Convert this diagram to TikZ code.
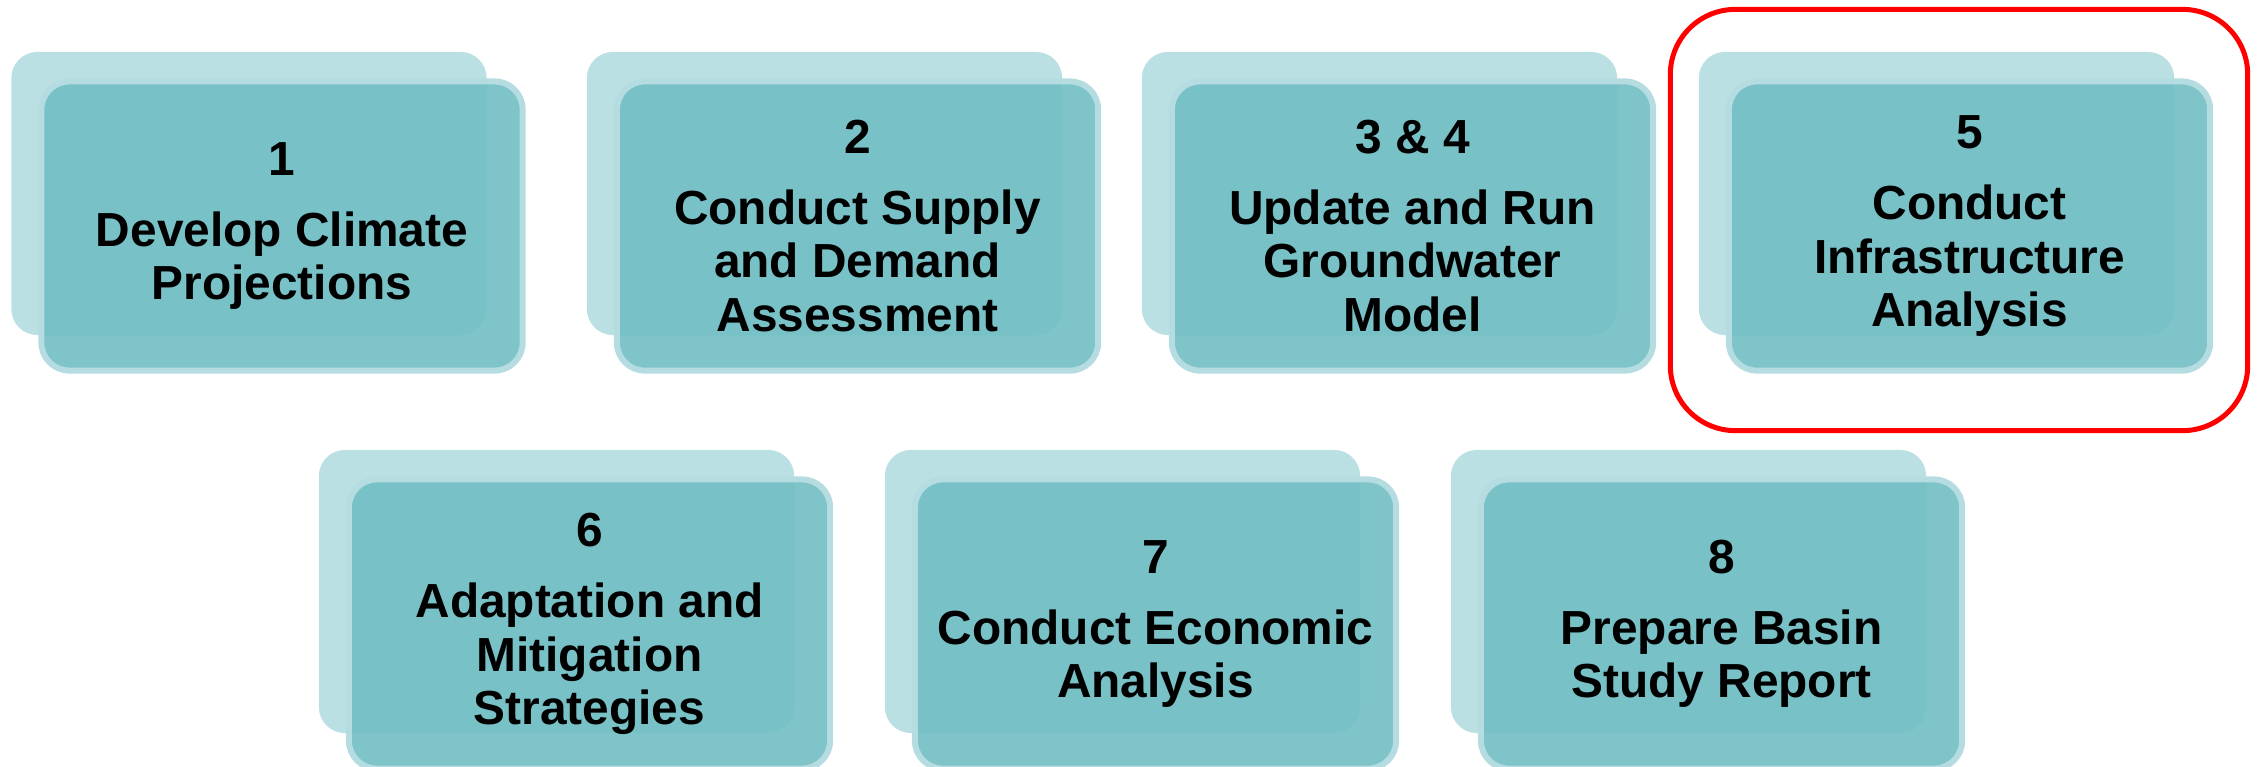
\documentclass[tikz,border=0pt]{standalone}
\usepackage{fontspec}
\setmainfont{Liberation Sans}
\definecolor{cardback}{RGB}{187,224,227}
\definecolor{cardfront}{RGB}{115,191,196}
\definecolor{cardedge}{RGB}{181,221,225}
\tikzset{
  backcard/.style={rectangle, rounded corners=0.26cm, fill=cardback,
    minimum width=4.75cm, minimum height=2.83cm, inner sep=0pt},
  frontcard/.style={rectangle, rounded corners=0.28cm, fill=cardfront,
    fill opacity=0.92, text opacity=1, draw=cardedge, line width=0.06cm,
    minimum width=4.81cm, minimum height=2.89cm, inner sep=0pt},
  cardtext/.style={align=center, font=\fontsize{13.6}{15.2}\selectfont\bfseries},
  highlight/.style={rectangle, draw=red, line width=0.05cm,
    rounded corners=0.65cm, minimum width=5.77cm, minimum height=4.21cm}
}
\begin{document}
\begin{tikzpicture}[x=0.01cm, y=-0.01cm]
      \useasboundingbox (0,0) rectangle (2261,766);
      % top row
      \node[backcard] (b1) at (249,193.5) {};
      \node[frontcard, cardtext] (f1) at (282,226) {1\\[5pt]Develop Climate\\Projections};
      \node[backcard] (b2) at (824.5,193.5) {};
      \node[frontcard, cardtext] (f2) at (857.5,226) {2\\[5pt]Conduct Supply\\and Demand\\Assessment};
      \node[backcard] (b3) at (1379.5,193.5) {};
      \node[frontcard, cardtext] (f3) at (1412.5,226) {3 \& 4\\[5pt]Update and Run\\Groundwater\\Model};
      \node[backcard] (b5) at (1936.5,193.5) {};
      \node[frontcard, cardtext] (f5) at (1969.5,226) {5\\[5pt]Conduct\\Infrastructure\\Analysis};
      \node[highlight] (hl) at (1959,220) {};
      % bottom row
      \node[backcard] (b6) at (556.5,591.5) {};
      \node[frontcard, cardtext] (f6) at (589.5,624) {6\\[5pt]Adaptation and\\Mitigation\\Strategies};
      \node[backcard] (b7) at (1122.5,591.5) {};
      \node[frontcard, cardtext] (f7) at (1155.5,624) {7\\[5pt]Conduct Economic\\Analysis};
      \node[backcard] (b8) at (1688.5,591.5) {};
      \node[frontcard, cardtext] (f8) at (1721.5,624) {8\\[5pt]Prepare Basin\\Study Report};
    \end{tikzpicture}
\end{document}
